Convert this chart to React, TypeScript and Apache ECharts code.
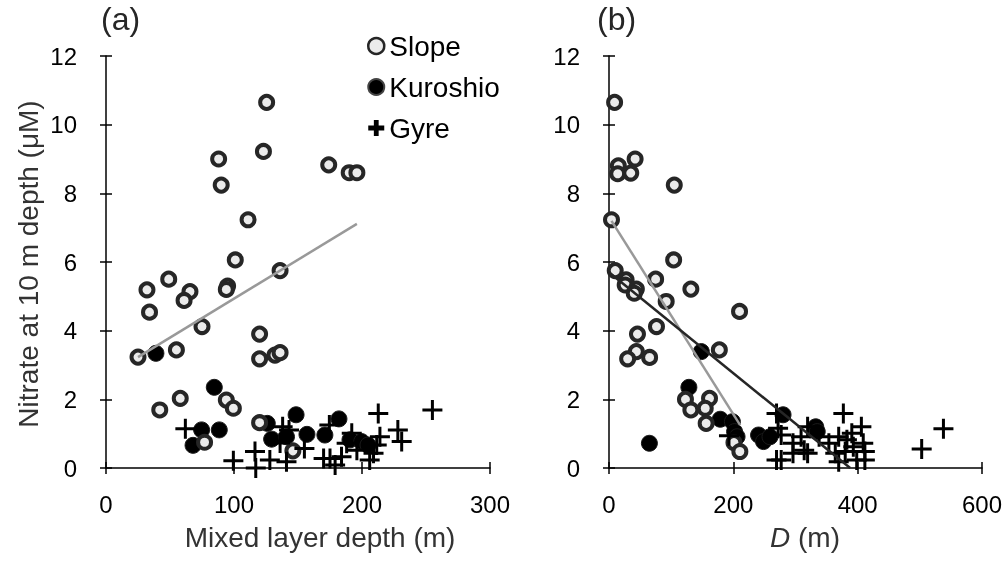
import React, { useEffect, useRef } from "react";
import * as echarts from "echarts";

// Panel (a): x = mixed layer depth (m), y = nitrate at 10 m (µM)
const slopeA = [
  [125.5, 10.65], [123, 9.22], [88, 9.0], [90, 8.24], [174, 8.83], [190, 8.6], [196, 8.6],
  [111, 7.23], [101, 6.06], [136, 5.75], [49, 5.5], [95, 5.3], [94, 5.2], [32, 5.19],
  [65.6, 5.14], [61, 4.88], [34, 4.54], [75, 4.12], [120, 3.9], [25, 3.23], [55, 3.44],
  [120, 3.18], [132, 3.29], [136, 3.36], [42, 1.69], [58, 2.03], [94, 1.98], [99.5, 1.74],
  [120, 1.32], [77, 0.75], [146, 0.5],
];
const kuroshioA = [
  [39, 3.34], [84.6, 2.35], [74.7, 1.11], [88.5, 1.11], [68, 0.66], [126, 1.3], [148.5, 1.55],
  [129.4, 0.84], [141, 0.91], [157, 0.98], [171, 0.96], [182, 1.43], [190.6, 0.82],
  [199.7, 0.77], [204.7, 0.67],
];
const gyreA = [
  [62, 1.14], [99.5, 0.21], [116.4, 0.48], [117, 0.0], [128, 0.23], [138, 1.2], [136, 0.73],
  [143, 1.11], [141, 0.18], [155, 0.57], [212.7, 1.59], [228, 1.11], [231, 0.77], [174.5, 1.25],
  [175, 0.28], [179, 0.09], [192, 1.01], [196, 0.52], [209, 0.43], [211.5, 0.67], [206, 0.23],
  [184, 0.33], [170, 0.28], [188, 0.72], [214, 0.91], [255, 1.69],
];
const trendA = [[25, 3.23], [196, 7.11]];

// Panel (b): x = D (m)
const slopeB = [
  [9, 10.65], [15, 8.8], [14, 8.57], [42, 9.0], [35, 8.59], [105, 8.24], [4, 7.23], [104, 6.06],
  [10, 5.75], [27.5, 5.48], [26, 5.33], [44, 5.21], [40.6, 5.09], [75, 5.5], [131.7, 5.21],
  [92, 4.85], [210, 4.56], [76.4, 4.12], [45.8, 3.9], [177.5, 3.44], [44, 3.39], [30, 3.18],
  [65.3, 3.22], [123, 2.0], [161.7, 2.03], [131.7, 1.69], [154.8, 1.74], [156.3, 1.3],
  [201, 0.74], [210.5, 0.48],
];
const kuroshioB = [
  [148.5, 3.39], [128.5, 2.35], [65, 0.72], [179, 1.42], [198.5, 1.35], [202, 1.06], [206, 0.91],
  [240.6, 0.96], [248.5, 0.77], [259, 0.91], [280, 1.55], [332.6, 1.2], [335, 1.06],
];
const gyreB = [
  [269.5, 1.59], [272, 1.16], [277, 0.96], [269.5, 0.23], [277, 0.23], [296, 0.72], [296, 0.43],
  [193, 0.94], [377, 1.59], [406, 1.2], [538, 1.14], [503, 0.55], [319.5, 1.2], [309, 0.91],
  [314, 0.52], [319.5, 0.43], [369.5, 0.91], [382.7, 0.82], [390.6, 1.01], [364, 0.43],
  [369.5, 0.18], [393, 0.62], [409, 0.72], [411.6, 0.48], [398.5, 0.23], [411.6, 0.23],
  [380, 0.48], [353.7, 0.72], [338, 0.91],
];
const trendBSlope = [[4, 7.2], [211, 1.25]];
const trendBAll = [[0, 5.7], [388, 0]];

const yTicks = { min: 0, max: 12, interval: 2 };
const xTicksA = { min: 0, max: 300, interval: 100 };
const xTicksB = { min: 0, max: 600, interval: 200 };

const FONT = "Liberation Sans, Arial, sans-serif";
const PLUS = "path://M8.5,0H11.5V8.5H20V11.5H11.5V20H8.5V11.5H0V8.5H8.5Z";

export default function App() {
  const ref = useRef<HTMLDivElement>(null);
  useEffect(() => {
    const chart = echarts.init(ref.current!, null, { renderer: "svg" });

    const mkX = (grid: number, t: any, inside: boolean) => ({
      type: "value",
      gridIndex: grid,
      position: "bottom",
      min: t.min,
      max: t.max,
      interval: t.interval,
      splitLine: { show: false },
      axisLine: { show: !inside, onZero: false, lineStyle: { color: "#000", width: 1.5 } },
      axisTick: { show: true, inside, length: 6, lineStyle: { color: "#000", width: 1.5 } },
      axisLabel: {
        show: !inside,
        fontSize: 24,
        color: "#000",
        fontFamily: FONT,
        margin: 24,
      },
    });
    const mkY = (grid: number, inside: boolean) => ({
      type: "value",
      gridIndex: grid,
      position: "left",
      ...yTicks,
      splitLine: { show: false },
      axisLine: { show: !inside, onZero: false, lineStyle: { color: "#000", width: 1.5 } },
      axisTick: { show: true, inside, length: 6, lineStyle: { color: "#000", width: 1.5 } },
      axisLabel: {
        show: !inside,
        fontSize: 24,
        color: "#000",
        fontFamily: FONT,
        margin: 29,
      },
    });

    const slopeStyle = { color: "#ebebeb", borderColor: "#262626", borderWidth: 4, opacity: 1 };
    const kuroStyle = { color: "#000", borderColor: "#1a1a1a", borderWidth: 1, opacity: 1 };
    const gyreStyle = { color: "#000", opacity: 1 };

    const scat = (name: string, data: number[][], grid: number, sym: string, size: number, style: any, z: number) => ({
      type: "scatter",
      name,
      xAxisIndex: grid * 2,
      yAxisIndex: grid * 2,
      data,
      symbol: sym,
      symbolSize: size,
      itemStyle: style,
      z,
    });
    const line = (data: number[][], grid: number, color: string) => ({
      type: "line",
      xAxisIndex: grid * 2,
      yAxisIndex: grid * 2,
      data,
      symbol: "none",
      lineStyle: { color, width: 2.5 },
      z: 10,
      silent: true,
    });

    chart.setOption({
      animation: false,
      textStyle: { fontFamily: FONT },
      grid: [
        { left: 106, top: 56, width: 384, height: 412 },
        { left: 609, top: 56, width: 380, height: 412 },
      ],
      xAxis: [mkX(0, xTicksA, false), mkX(0, xTicksA, true), mkX(1, xTicksB, false), mkX(1, xTicksB, true)],
      yAxis: [mkY(0, false), mkY(0, true), mkY(1, false), mkY(1, true)],
      legend: {
        orient: "vertical",
        left: 367,
        top: 31,
        padding: 0,
        itemWidth: 16,
        itemHeight: 16,
        itemGap: 11,
        textStyle: { fontSize: 28, color: "#000", fontFamily: FONT, lineHeight: 30 },
        data: [
          { name: "Slope", icon: "circle", itemStyle: { color: "#ebebeb", borderColor: "#262626", borderWidth: 2.5, opacity: 1 } },
          { name: "Kuroshio", icon: "circle", itemStyle: { color: "#000", borderColor: "#444", borderWidth: 2, opacity: 1 } },
          { name: "Gyre", icon: "path://M7,0H13V7H20V13H13V20H7V13H0V7H7Z", itemStyle: { color: "#000", opacity: 1 } },
        ],
      },
      graphic: [
        { type: "text", left: 101, top: 3, style: { text: "(a)", fontSize: 32, fill: "#262626", fontFamily: FONT } },
        { type: "text", left: 597, top: 3, style: { text: "(b)", fontSize: 32, fill: "#262626", fontFamily: FONT } },
        {
          type: "text",
          x: 320,
          y: 537,
          style: { text: "Mixed layer depth (m)", fontSize: 28, fill: "#333", fontFamily: FONT, align: "center", verticalAlign: "middle" },
        },
        {
          type: "text",
          x: 805,
          y: 537,
          style: {
            text: "{i|D} (m)",
            fontSize: 28,
            fill: "#333",
            fontFamily: FONT,
            align: "center",
            verticalAlign: "middle",
            rich: { i: { fontStyle: "italic", fontSize: 28, fill: "#333", fontFamily: FONT } },
          },
        },
        {
          type: "text",
          x: 28,
          y: 264,
          rotation: Math.PI / 2,
          style: { text: "Nitrate at 10 m depth (μM)", fontSize: 28, fill: "#333", fontFamily: FONT, align: "center", verticalAlign: "middle" },
        },
      ],
      series: [
        scat("Kuroshio", kuroshioA, 0, "circle", 16, kuroStyle, 2),
        scat("Slope", slopeA, 0, "circle", 13, slopeStyle, 3),
        scat("Gyre", gyreA, 0, PLUS, 20, gyreStyle, 4),
        line(trendA, 0, "#999"),
        scat("Kuroshio", kuroshioB, 1, "circle", 16, kuroStyle, 2),
        scat("Slope", slopeB, 1, "circle", 13, slopeStyle, 3),
        scat("Gyre", gyreB, 1, PLUS, 20, gyreStyle, 4),
        line(trendBSlope, 1, "#999"),
        line(trendBAll, 1, "#262626"),
      ],
    });
    return () => chart.dispose();
  }, []);
  return <div ref={ref} style={{ position: "fixed", left: 0, top: 0, width: 1005, height: 564 }} />;
}
